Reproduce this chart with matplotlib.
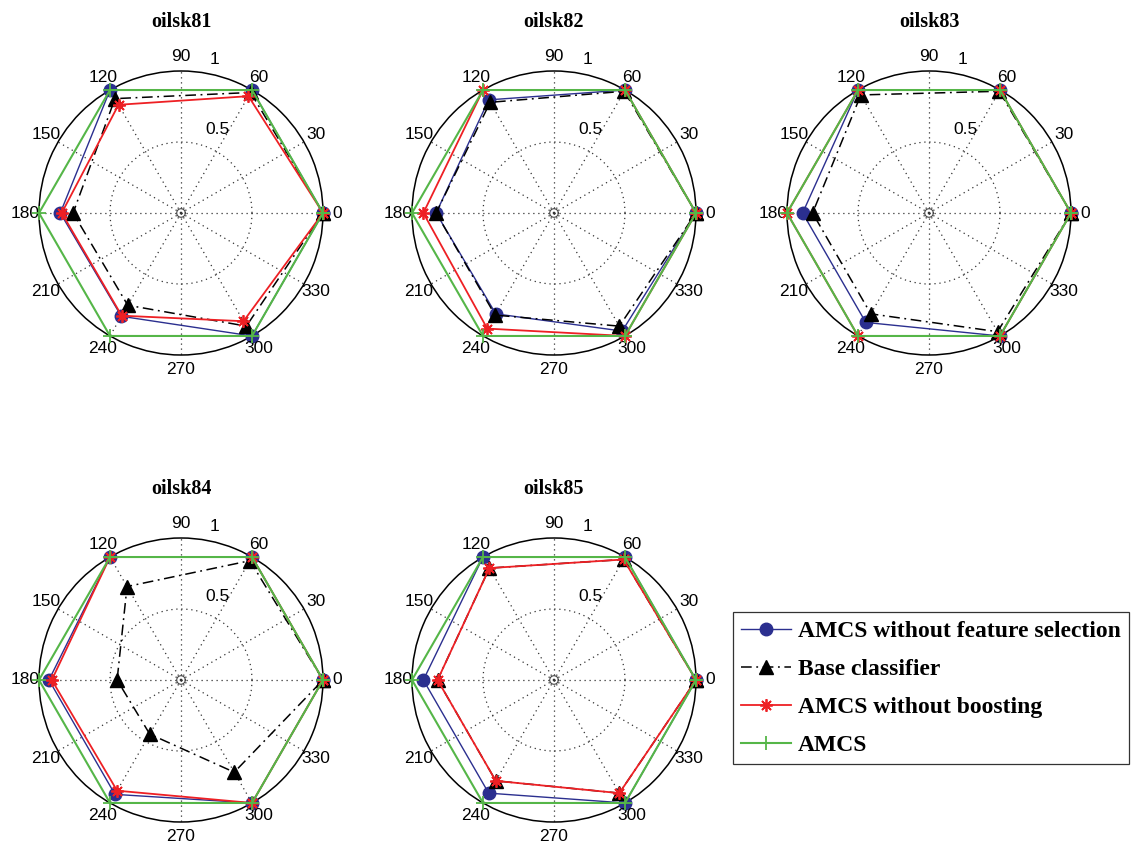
import numpy as np
import matplotlib
matplotlib.use("Agg")
import matplotlib.pyplot as plt

# ---- data -------------------------------------------------------------
angles_deg = [0, 60, 120, 180, 240, 300]
titles = ["oilsk81", "oilsk82", "oilsk83", "oilsk84", "oilsk85"]
series_names = ["AMCS without feature selection", "Base classifier",
                "AMCS without boosting", "AMCS"]

no_fs = [
    [1.00, 1.00, 1.00, 0.85, 0.84, 1.00],
    [1.00, 1.00, 0.92, 0.83, 0.82, 0.96],
    [1.00, 1.00, 1.00, 0.89, 0.89, 1.00],
    [1.00, 1.00, 1.00, 0.93, 0.93, 1.00],
    [1.00, 1.00, 1.00, 0.92, 0.92, 1.00],
]
base = [
    [1.00, 0.98, 0.93, 0.76, 0.75, 0.92],
    [1.00, 0.99, 0.90, 0.83, 0.83, 0.92],
    [1.00, 0.99, 0.96, 0.82, 0.82, 0.965],
    [1.00, 0.97, 0.76, 0.45, 0.44, 0.75],
    [1.00, 0.98, 0.91, 0.82, 0.82, 0.92],
]
no_boost = [
    [1.00, 0.95, 0.88, 0.84, 0.835, 0.88],
    [1.00, 1.00, 1.00, 0.92, 0.94, 1.00],
    [1.00, 1.00, 1.00, 1.00, 1.00, 1.00],
    [1.00, 1.00, 1.00, 0.91, 0.90, 1.00],
    [1.00, 0.98, 0.91, 0.82, 0.82, 0.92],
]
amcs = [
    [1.00, 1.00, 1.00, 1.00, 1.00, 1.00],
    [1.00, 1.00, 1.00, 1.00, 1.00, 1.00],
    [1.00, 1.00, 1.00, 1.00, 1.00, 1.00],
    [1.00, 1.00, 1.00, 1.00, 1.00, 1.00],
    [1.00, 1.00, 1.00, 1.00, 1.00, 1.00],
]
angle_labels = [str(a) for a in range(0, 360, 30)]

# ---- layout -----------------------------------------------------------
W, H = 1132, 844
R = 142
centers = [(181, 213), (554, 213), (929, 213), (181, 680), (554, 680)]

BLUE = "#2b2f8f"
BLACK = "#000000"
RED = "#ee2024"
GREEN = "#55b648"

fig = plt.figure(figsize=(W / 100, H / 100), dpi=100)

def closed(v):
    return list(v) + [v[0]]

theta = np.deg2rad(angles_deg)
theta_c = np.append(theta, theta[0])

handles = None
for i, (cx, cy) in enumerate(centers):
    ax = fig.add_axes([(cx - R) / W, (H - cy - R) / H, 2 * R / W, 2 * R / H],
                      projection="polar")
    ax.set_ylim(0, 1)
    ax.set_xticks(np.deg2rad(np.arange(0, 360, 30)))
    ax.set_xticklabels([])
    ax.set_yticks([0.5])
    ax.set_yticklabels([])
    ax.grid(True, linestyle=(0, (1, 3)), color="#333333", linewidth=0.9)
    ax.spines["polar"].set_color("black")
    ax.spines["polar"].set_linewidth(1.1)
    ax.set_facecolor("white")
    # tiny centre ring
    tt = np.linspace(0, 2 * np.pi, 60)
    ax.plot(tt, np.full_like(tt, 0.03), color="#444444", lw=0.8, zorder=1)

    h1, = ax.plot(theta_c, closed(no_fs[i]), color=BLUE, lw=1.0, marker="o",
                  markersize=9, markerfacecolor=BLUE, markeredgecolor=BLUE,
                  clip_on=False, zorder=3)
    h2, = ax.plot(theta_c, closed(base[i]), color=BLACK, lw=1.1,
                  linestyle=(0, (7, 3, 1.2, 3)), marker="^", markersize=10,
                  markerfacecolor=BLACK, clip_on=False, zorder=4)
    h3, = ax.plot(theta_c, closed(no_boost[i]), color=RED, lw=1.3,
                  marker=(8, 2, 0), markersize=9, markeredgewidth=1.3,
                  markerfacecolor=RED, markeredgecolor=RED,
                  clip_on=False, zorder=5)
    h4, = ax.plot(theta_c, closed(amcs[i]), color=GREEN, lw=1.5, marker="+",
                  markersize=10, markeredgewidth=1.3, clip_on=False, zorder=6)
    handles = [h1, h2, h3, h4]

    for a, lab in zip(range(0, 360, 30), angle_labels):
        ax.text(np.deg2rad(a), 1.1, lab, ha="center", va="center",
                fontsize=12.5, family="Liberation Sans", clip_on=False)
    ax.text(np.deg2rad(72.5), 0.56, "0.5", ha="left", va="bottom",
            fontsize=12.5, family="Liberation Sans", clip_on=False)
    ax.text(np.deg2rad(79), 1.05, "1", ha="left", va="bottom",
            fontsize=12.5, family="Liberation Sans", clip_on=False)
    ax.set_title(titles[i], fontsize=14.5, fontweight="bold",
                 family="Liberation Serif", pad=32)

leg = fig.legend(handles, series_names, loc="upper left",
                 bbox_to_anchor=(733 / W, 1 - 612 / H),
                 prop={"family": "Liberation Serif", "weight": "bold", "size": 17},
                 frameon=True, fancybox=False, edgecolor="black",
                 handlelength=2.1, handletextpad=0.3, labelspacing=0.7,
                 borderpad=0.35, borderaxespad=0)
leg.get_frame().set_linewidth(0.9)

fig.savefig("out.png", dpi=100, facecolor="white")
